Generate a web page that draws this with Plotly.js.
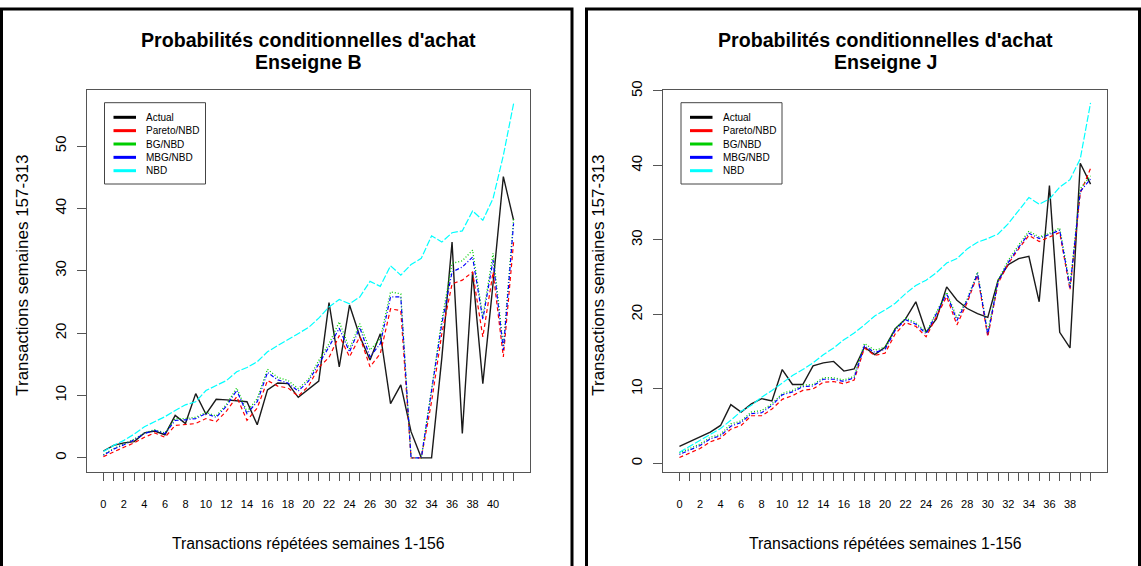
<!DOCTYPE html>
<html><head><meta charset="utf-8">
<script src="https://cdn.plot.ly/plotly-3.0.1.min.js"></script>
<style>html,body{margin:0;padding:0;background:#fff;overflow:hidden}#chart{width:1141px;height:566px}</style>
</head><body><div id="chart"></div>
<script>
const W = 1141, H = 566;
const seriesNames = ['Actual', 'Pareto/NBD', 'BG/NBD', 'MBG/NBD', 'NBD'];

// Enseigne B
const actualB = [1.1, 2.0, 2.4, 2.6, 4.0, 4.3, 3.7, 6.8, 5.5, 10.3, 7.0, 9.4, 9.3, 9.1, 9.0, 5.3, 10.9, 12.0, 11.9, 9.7, 11.0, 12.3, 24.9, 14.6, 24.5, 19.5, 15.7, 19.9, 8.7, 11.7, 4.2, 0, 0, 16, 34.6, 3.9, 29.8, 11.9, 28, 45.1, 38.1];
const paretoB = [0.2, 1.0, 1.7, 2.4, 3.3, 4.0, 3.3, 5.2, 5.3, 5.5, 6.3, 5.8, 7.5, 9.8, 6.0, 8.0, 12.4, 11.5, 11.2, 9.9, 11.5, 14.5, 16.1, 19.6, 16.2, 19.4, 14.6, 16.7, 23.9, 23.6, 0, 0, 9, 19.9, 27.9, 28.5, 29.8, 19.4, 29.8, 16.2, 34.6];
const bgB = [0.5, 1.5, 2.2, 3.0, 4.0, 4.5, 4.0, 6.3, 6.3, 6.5, 7.3, 6.7, 8.6, 11.2, 7.4, 9.5, 14.2, 12.9, 12.4, 11.1, 12.6, 15.6, 18.3, 21.8, 17.5, 21.5, 17.3, 19.1, 26.6, 26.3, 0, 0, 11, 22.1, 31.2, 31.6, 33.3, 22.6, 32.8, 17.8, 38.4];
const mbgB = [0.4, 1.4, 2.1, 2.9, 3.9, 4.4, 3.9, 6.0, 6.1, 6.3, 7.1, 6.5, 8.3, 10.8, 7.1, 9.0, 13.7, 12.5, 12.0, 10.7, 12.3, 15.0, 17.8, 20.8, 17.0, 20.9, 16.2, 18.3, 25.8, 25.8, 0, 0, 10.5, 21.5, 29.8, 30.6, 32.2, 22.2, 31.7, 17.3, 37.6];
const nbdB = [1.0, 2.0, 2.8, 3.8, 5.0, 5.8, 6.6, 7.6, 8.5, 9.0, 10.8, 11.6, 12.4, 13.8, 14.5, 15.4, 17.0, 18.0, 19.0, 20.0, 20.9, 22.4, 24.2, 25.4, 24.7, 25.8, 28.3, 27.5, 30.8, 29.3, 31.0, 32.0, 35.6, 34.6, 36.1, 36.4, 39.6, 38.1, 41.6, 48.5, 56.8];
const tickLabelsB = ['0', '2', '4', '6', '8', '10', '12', '14', '16', '18', '20', '22', '24', '26', '30', '32', '34', '36', '38', '40'];

// Enseigne J
const actualJ = [2.3, 2.95, 3.6, 4.2, 5.1, 7.9, 6.9, 8.0, 8.7, 8.4, 12.6, 10.6, 10.6, 13.1, 13.5, 13.7, 12.4, 12.7, 15.6, 14.6, 15.6, 18.1, 19.4, 21.7, 17.6, 19.4, 23.7, 21.9, 20.8, 20.1, 19.6, 24.6, 26.7, 27.5, 27.8, 21.7, 37.3, 17.6, 15.5, 40.3, 37.5];
const paretoJ = [0.8, 1.4, 2.0, 2.9, 3.4, 4.6, 5.1, 6.4, 6.4, 7.3, 8.6, 9.1, 9.8, 10.0, 10.9, 11.0, 10.7, 11.2, 15.5, 14.5, 14.8, 17.4, 18.9, 18.4, 17.0, 19.7, 22.4, 18.6, 21.6, 25.3, 17.0, 24.2, 26.8, 28.8, 30.6, 29.8, 30.4, 31.0, 23.3, 36.3, 39.6];
const bgJ = [1.4, 2.0, 2.6, 3.5, 3.9, 5.3, 5.7, 6.9, 7.1, 8.0, 9.4, 9.8, 10.5, 10.6, 11.5, 11.5, 11.2, 11.7, 16.1, 15.2, 15.6, 18.1, 19.5, 18.9, 17.6, 20.3, 23.0, 19.5, 22.1, 25.7, 17.6, 24.6, 27.3, 29.3, 31.2, 30.4, 30.9, 31.6, 23.9, 36.9, 38.6];
const mbgJ = [1.2, 1.8, 2.4, 3.3, 3.7, 5.0, 5.5, 6.7, 6.8, 7.8, 9.2, 9.6, 10.3, 10.4, 11.3, 11.3, 11.0, 11.5, 15.8, 14.9, 15.3, 17.9, 19.3, 18.7, 17.4, 20.1, 22.8, 19.2, 21.9, 25.5, 17.3, 24.4, 27.0, 29.0, 30.9, 30.2, 30.7, 31.3, 23.6, 36.5, 38.2];
const nbdJ = [1.5, 2.3, 3.1, 3.9, 4.7, 5.8, 7.0, 7.8, 8.9, 9.8, 10.8, 11.8, 12.6, 13.5, 14.6, 15.5, 16.6, 17.5, 18.6, 19.8, 20.6, 21.5, 22.8, 23.9, 24.6, 25.6, 26.9, 27.5, 28.8, 29.7, 30.2, 30.8, 32.2, 34.0, 35.7, 34.8, 35.5, 37.1, 38.1, 40.9, 48.4];
const tickLabelsJ = ['0', '2', '4', '6', '8', '10', '12', '14', '16', '18', '20', '22', '24', '26', '28', '30', '32', '34', '36', '38'];

const yTicks = [0, 10, 20, 30, 40, 50];
const titleLine1 = 'Probabilités conditionnelles d\'achat';
const xTitle = 'Transactions répétées semaines 1-156';
const yTitle = 'Transactions semaines 157-313';

const colors = ['#1a1a1a', '#ff0000', '#00cd00', '#0000ff', '#00ffff'];
const dashes = ['solid', '4px,3px', '1px,2px', '1px,2px,4px,2px', '7px,2px'];
const widths = [1.4, 1.2, 1.3, 1.2, 1.2];
const FONT = 'Liberation Sans, Arial, sans-serif';

function px(x) { return x / W; }
function py(y) { return 1 - y / H; }

function makeTraces(list, xa, ya) {
  return list.map((s, k) => ({
    x: s.map((_, i) => i), y: s, type: 'scatter', mode: 'lines',
    xaxis: xa, yaxis: ya, name: seriesNames[k], showlegend: false, hoverinfo: 'skip',
    line: { color: colors[k], width: widths[k], dash: dashes[k] }
  }));
}
function tickText(labels, n) {
  const out = [];
  for (let i = 0; i < n; i++) out.push(i % 2 === 0 && i / 2 < labels.length ? labels[i / 2] : '');
  return out;
}

const nB = actualB.length, nJ = actualJ.length;
const data = [].concat(
  makeTraces([actualB, paretoB, bgB, mbgB, nbdB], 'x', 'y'),
  makeTraces([actualJ, paretoJ, bgJ, mbgJ, nbdJ], 'x2', 'y2')
);

const panels = [
  { l: 87, r: 530, top: 89.5, bot: 472, name: 'Enseigne B', pl: 1.5, pr: 572, leg: 104.5 },
  { l: 663, r: 1107, top: 89.5, bot: 472, name: 'Enseigne J', pl: 586.5, pr: 1139.5, leg: 681 }
];

function xAxis(p, labels, n, anchor) {
  const tt = tickText(labels, n);
  return {
    domain: [px(p.l), px(p.r)], range: [-1.6, n - 1 + 1.6], anchor: anchor,
    tickmode: 'array', tickvals: tt.map((_, i) => i), ticktext: tt,
    ticks: 'outside', ticklen: 8, tickcolor: '#555', tickwidth: 1,
    showline: true, mirror: true, linecolor: '#555', linewidth: 1,
    showgrid: false, zeroline: false, ticklabelstandoff: 14,
    tickfont: { family: FONT, size: 11, color: '#000' }, fixedrange: true
  };
}
function yAxis(p, range, anchor) {
  return {
    domain: [py(p.bot), py(p.top)], range: range, anchor: anchor,
    tickmode: 'array', tickvals: yTicks, ticktext: yTicks.map(String), tickangle: -90,
    ticks: 'outside', ticklen: 9, tickcolor: '#555', tickwidth: 1,
    showline: true, mirror: true, linecolor: '#555', linewidth: 1,
    showgrid: false, zeroline: false, ticklabelstandoff: 5,
    tickfont: { family: FONT, size: 15, color: '#000' }, fixedrange: true
  };
}

const shapes = [], annotations = [];
panels.forEach(p => {
  shapes.push({ type: 'rect', xref: 'paper', yref: 'paper', x0: px(p.pl), x1: px(p.pr), y0: py(600), y1: py(9), line: { color: '#000', width: 3 } });
  const cx = (p.l + p.r) / 2, cy = (p.top + p.bot) / 2 - 5;
  annotations.push({ xref: 'paper', yref: 'paper', x: px(cx), y: py(40), text: '<b>' + titleLine1 + '</b>', showarrow: false, xanchor: 'center', yanchor: 'middle', font: { family: FONT, size: 19.6, color: '#000' } });
  annotations.push({ xref: 'paper', yref: 'paper', x: px(cx), y: py(62), text: '<b>' + p.name + '</b>', showarrow: false, xanchor: 'center', yanchor: 'middle', font: { family: FONT, size: 19.6, color: '#000' } });
  annotations.push({ xref: 'paper', yref: 'paper', x: px(cx), y: py(543), text: xTitle, showarrow: false, xanchor: 'center', yanchor: 'middle', font: { family: FONT, size: 15.8, color: '#000' } });
  annotations.push({ xref: 'paper', yref: 'paper', x: px(p.l - 64), y: py(cy), text: yTitle, textangle: -90, showarrow: false, xanchor: 'center', yanchor: 'middle', font: { family: FONT, size: 17, color: '#000' } });
  // legend box
  const L = p.leg, T = 102.7;
  shapes.push({ type: 'rect', xref: 'paper', yref: 'paper', x0: px(L), x1: px(L + 101), y0: py(184), y1: py(T), line: { color: '#444', width: 1 }, fillcolor: 'rgba(255,255,255,0)' });
  seriesNames.forEach((nm, k) => {
    const yy = 117.3 + k * 13.35;
    shapes.push({ type: 'line', xref: 'paper', yref: 'paper', x0: px(L + 9), x1: px(L + 31.5), y0: py(yy), y1: py(yy), line: { color: colors[k] === '#1a1a1a' ? '#000' : colors[k], width: 3 } });
    annotations.push({ xref: 'paper', yref: 'paper', x: px(L + 39.5), y: py(yy), text: nm, showarrow: false, xanchor: 'left', yanchor: 'middle', font: { family: FONT, size: 10, color: '#000' } });
  });
});

const layout = {
  width: W, height: H, margin: { l: 0, r: 0, t: 0, b: 0 },
  paper_bgcolor: '#fff', plot_bgcolor: '#fff', showlegend: false,
  xaxis: xAxis(panels[0], tickLabelsB, nB, 'y'),
  yaxis: yAxis(panels[0], [-2.27, 59.07], 'x'),
  xaxis2: xAxis(panels[1], tickLabelsJ, nJ, 'y2'),
  yaxis2: yAxis(panels[1], [-1.15, 50.2], 'x2'),
  shapes: shapes, annotations: annotations
};
Plotly.newPlot('chart', data, layout, { displayModeBar: false, staticPlot: true });
</script></body></html>
